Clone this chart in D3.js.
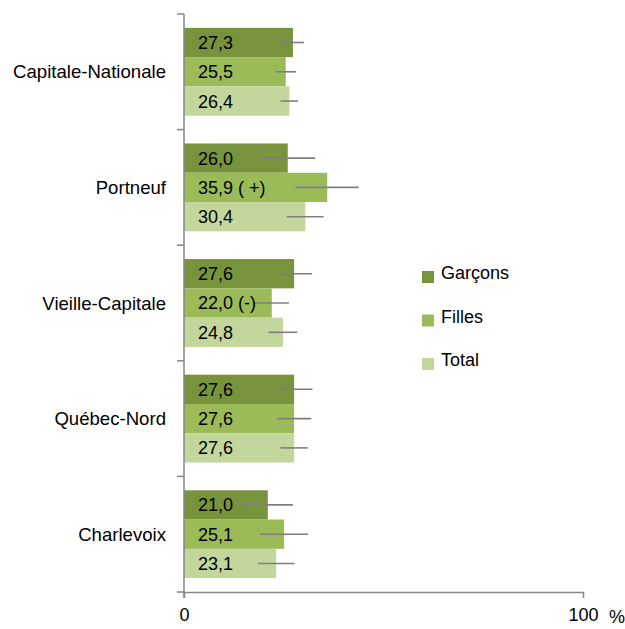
<!DOCTYPE html>
<html lang="fr">
<head>
<meta charset="UTF-8">
<title>Garçons / Filles / Total par territoire</title>
<script src="https://d3js.org/d3.v7.min.js"></script>
<style>
  body { margin: 0; background: #fff; }
  text { font-family: "Liberation Sans", Arial, sans-serif; fill: #000; }
</style>
</head>
<body>
<script>
// categories, series, values
var regions = ["Capitale-Nationale", "Portneuf", "Vieille-Capitale", "Québec-Nord", "Charlevoix"];
var series = ["Garçons", "Filles", "Total"];
var garcons = [27.3, 26.0, 27.6, 27.6, 21.0];
var filles  = [25.5, 35.9, 22.0, 27.6, 25.1];
var total   = [26.4, 30.4, 24.8, 27.6, 23.1];
// half width of the error bars
var errGarcons = [2.8, 6.9, 4.5, 4.6, 6.3];
var errFilles  = [2.6, 7.9, 4.3, 4.3, 6.0];
var errTotal   = [2.2, 4.6, 3.6, 3.4, 4.6];
// extra marks after a value
var noteFilles = ["", " ( +)", " (-)", "", ""];
var xTicks = [0, 100];

var colors = ["#77933c", "#9bbb59", "#c3d69b"];
var w = 625, h = 629;
var x0 = 184, x1 = 583, yTop = 14, yBot = 592;

var values = [garcons, filles, total];
var errs = [errGarcons, errFilles, errTotal];
var notes = [["", "", "", "", ""], noteFilles, ["", "", "", "", ""]];

var rows = [];
regions.forEach(function(r, i) {
  series.forEach(function(s, j) {
    rows.push({ region: r, serie: s, j: j, v: values[j][i], e: errs[j][i],
                label: d3.format(".1f")(values[j][i]).replace(".", ",") + notes[j][i] });
  });
});

var svg = d3.select("body").append("svg")
  .attr("width", w).attr("height", h);

var x = d3.scaleLinear().domain([0, 100]).range([x0, x1]);
var y = d3.scaleBand().domain(regions).range([yTop, yBot])
  .paddingInner(0.24).paddingOuter(0.12);
var yIn = d3.scaleBand().domain(series).range([0, y.bandwidth()]);

// bars
svg.selectAll("rect.bar")
  .data(rows)
  .enter()
  .append("rect")
  .attr("class", "bar")
  .attr("x", x(0))
  .attr("y", function(d) { return y(d.region) + yIn(d.serie); })
  .attr("width", function(d) { return x(d.v) - x(0); })
  .attr("height", yIn.bandwidth())
  .attr("fill", function(d) { return colors[d.j]; });

// error bars
svg.selectAll("line.err")
  .data(rows)
  .enter()
  .append("line")
  .attr("class", "err")
  .attr("x1", function(d) { return x(d.v - d.e); })
  .attr("x2", function(d) { return x(d.v + d.e); })
  .attr("y1", function(d) { return y(d.region) + yIn(d.serie) + yIn.bandwidth() / 2; })
  .attr("y2", function(d) { return y(d.region) + yIn(d.serie) + yIn.bandwidth() / 2; })
  .attr("stroke", "#7f7f7f")
  .attr("stroke-width", 1.6);

// value labels
svg.selectAll("text.val")
  .data(rows)
  .enter()
  .append("text")
  .attr("class", "val")
  .attr("x", x(0) + 14)
  .attr("y", function(d) { return y(d.region) + yIn(d.serie) + yIn.bandwidth() / 2; })
  .attr("dy", "0.36em")
  .attr("font-size", "18px")
  .text(function(d) { return d.label; });

// y axis: line with ticks at the category boundaries
var bounds = regions.map(function(r) { return y(r) - y.step() * y.paddingOuter(); });
bounds.push(yBot);
svg.append("line")
  .attr("x1", x0).attr("x2", x0)
  .attr("y1", yTop).attr("y2", yBot + 6)
  .attr("stroke", "#868686").attr("stroke-width", 1.5);
svg.selectAll("line.ytick")
  .data(bounds)
  .enter()
  .append("line")
  .attr("class", "ytick")
  .attr("x1", x0 - 7).attr("x2", x0)
  .attr("y1", function(d) { return d; }).attr("y2", function(d) { return d; })
  .attr("stroke", "#868686").attr("stroke-width", 1.5);

svg.selectAll("text.cat")
  .data(regions)
  .enter()
  .append("text")
  .attr("class", "cat")
  .attr("text-anchor", "end")
  .attr("x", x0 - 18)
  .attr("y", function(d) { return y(d) + y.bandwidth() / 2; })
  .attr("dy", "0.36em")
  .attr("font-size", "18.6px")
  .text(function(d) { return d; });

// x axis
var xAxis = d3.axisBottom(x).tickValues(xTicks).tickSize(6).tickSizeOuter(0)
  .tickFormat(d3.format("d"));
var gx = svg.append("g")
  .attr("transform", "translate(0," + yBot + ")")
  .call(xAxis);
gx.select(".domain").attr("stroke", "#868686").attr("stroke-width", 1.5);
gx.selectAll(".tick line").attr("stroke", "#868686").attr("stroke-width", 1.5);
gx.selectAll(".tick text")
  .attr("font-size", "18px")
  .attr("font-family", "Liberation Sans, Arial, sans-serif")
  .attr("fill", "#000")
  .attr("y", 16);

svg.append("text")
  .attr("x", 609)
  .attr("y", 623)
  .attr("font-size", "18px")
  .text("%");

// legend
var legend = svg.selectAll("g.leg")
  .data(series)
  .enter()
  .append("g")
  .attr("class", "leg")
  .attr("transform", function(d, i) { return "translate(422," + (271 + i * 43.5) + ")"; });
legend.append("rect")
  .attr("width", 12).attr("height", 12)
  .attr("fill", function(d, i) { return colors[i]; });
legend.append("text")
  .attr("x", 19)
  .attr("y", 8)
  .attr("font-size", "18px")
  .text(function(d) { return d; });
</script>
</body>
</html>
